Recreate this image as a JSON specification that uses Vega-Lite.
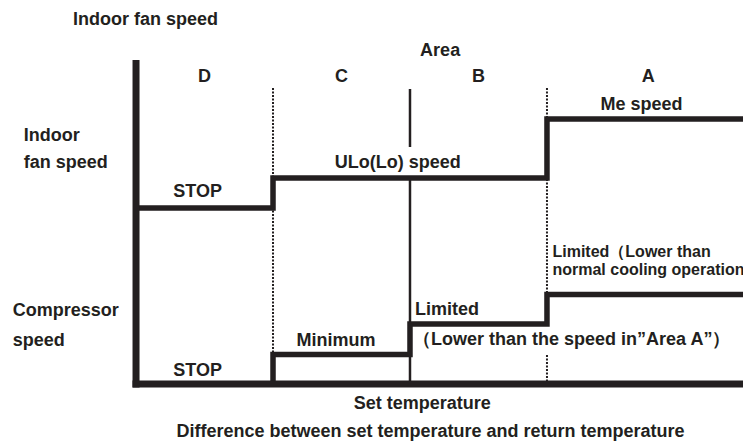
{
  "$schema": "https://vega.github.io/schema/vega-lite/v6.json",
  "width": 743,
  "height": 443,
  "autosize": {"type": "none"},
  "padding": 0,
  "background": "white",
  "config": {
    "view": {"stroke": null},
    "text": {"font": "Liberation Sans", "fontWeight": "bold", "fontSize": 18, "color": "#231f20", "baseline": "middle"}
  },
  "datasets": {
    "steps": [
      {"series": "Indoor fan", "x": -2, "y": 17.6},
      {"series": "Indoor fan", "x": -1, "y": 20.6},
      {"series": "Indoor fan", "x": 0, "y": 20.6},
      {"series": "Indoor fan", "x": 1, "y": 26.5},
      {"series": "Indoor fan", "x": 2.431, "y": 26.5},
      {"series": "Compressor", "x": -2, "y": 0},
      {"series": "Compressor", "x": -1, "y": 2.95},
      {"series": "Compressor", "x": 0, "y": 6.0},
      {"series": "Compressor", "x": 1, "y": 8.95},
      {"series": "Compressor", "x": 2.431, "y": 8.95}
    ],
    "bounds": [
      {"kind": "dotted", "x": -1, "y": 29.6, "y2": 0},
      {"kind": "dotted", "x": 1, "y": 29.6, "y2": 6.0},
      {"kind": "dotted", "x": 1, "y": 2.9, "y2": 0},
      {"kind": "solid", "x": 0, "y": 29.5, "y2": 23.7},
      {"kind": "solid", "x": 0, "y": 20.6, "y2": 0}
    ],
    "frame": [
      {"part": "vertical", "x": -2, "x2": -2, "y": 32.05, "y2": 0},
      {"part": "horizontal", "x": -2, "x2": 2.431, "y": 0, "y2": 0}
    ],
    "labels": [
      {"text": "Indoor fan speed", "x": -2.46, "y": 36.4, "align": "left"},
      {"text": "Area", "x": 0.22, "y": 33.3, "align": "center"},
      {"text": "D", "x": -1.5, "y": 30.7, "align": "center"},
      {"text": "C", "x": -0.5, "y": 30.7, "align": "center"},
      {"text": "B", "x": 0.5, "y": 30.7, "align": "center"},
      {"text": "A", "x": 1.74, "y": 30.7, "align": "center"},
      {"text": "Me speed", "x": 1.69, "y": 27.9, "align": "center"},
      {"text": "Indoor", "x": -2.82, "y": 24.8, "align": "left"},
      {"text": "fan speed", "x": -2.82, "y": 22.1, "align": "left"},
      {"text": "STOP", "x": -1.55, "y": 19.2, "align": "center"},
      {"text": "ULo(Lo) speed", "x": -0.09, "y": 22.1, "align": "center"},
      {"text": "Compressor", "x": -2.9, "y": 7.3, "align": "left"},
      {"text": "speed", "x": -2.9, "y": 4.3, "align": "left"},
      {"text": "Limited", "x": 0.036, "y": 7.4, "align": "left"},
      {"text": "（Lower than the speed in”Area A”）", "x": 0.022, "y": 4.4, "align": "left"},
      {"text": "Minimum", "x": -0.54, "y": 4.3, "align": "center"},
      {"text": "STOP", "x": -1.55, "y": 1.3, "align": "center"},
      {"text": "Set temperature", "x": 0.09, "y": -2.0, "align": "center"},
      {"text": "Difference between set temperature and return temperature", "x": 0.15, "y": -4.8, "align": "center"}
    ],
    "notes": [
      {"text": "Limited（Lower than", "x": 1.04, "y": 13.2},
      {"text": "normal cooling operation）", "x": 1.04, "y": 11.4}
    ]
  },
  "encoding": {
    "x": {"field": "x", "type": "quantitative", "scale": {"domain": [-2.993, 2.431], "nice": false, "zero": false}, "axis": null},
    "y": {"field": "y", "type": "quantitative", "scale": {"domain": [-5.9, 38.4], "nice": false, "zero": false}, "axis": null}
  },
  "layer": [
    {
      "data": {"name": "bounds"},
      "transform": [{"filter": "datum.kind === 'dotted'"}],
      "mark": {"type": "rule", "color": "#231f20", "strokeWidth": 2, "strokeDash": [2, 1.5]},
      "encoding": {"y2": {"field": "y2"}}
    },
    {
      "data": {"name": "bounds"},
      "transform": [{"filter": "datum.kind === 'solid'"}],
      "mark": {"type": "rule", "color": "#231f20", "strokeWidth": 2.5},
      "encoding": {"y2": {"field": "y2"}}
    },
    {
      "data": {"name": "steps"},
      "mark": {"type": "line", "interpolate": "step-after", "color": "#231f20", "strokeWidth": 5.5, "strokeJoin": "miter", "strokeCap": "butt"},
      "encoding": {"detail": {"field": "series"}}
    },
    {
      "data": {"name": "frame"},
      "mark": {"type": "rule", "color": "#231f20", "strokeWidth": 7, "strokeCap": "square"},
      "encoding": {"x2": {"field": "x2"}, "y2": {"field": "y2"}}
    },
    {
      "data": {"name": "labels"},
      "transform": [{"filter": "datum.align === 'left'"}],
      "mark": {"type": "text", "align": "left"},
      "encoding": {"text": {"field": "text"}}
    },
    {
      "data": {"name": "labels"},
      "transform": [{"filter": "datum.align === 'center'"}],
      "mark": {"type": "text", "align": "center"},
      "encoding": {"text": {"field": "text"}}
    },
    {
      "data": {"name": "notes"},
      "mark": {"type": "text", "align": "left", "fontSize": 16},
      "encoding": {"text": {"field": "text"}}
    }
  ]
}
